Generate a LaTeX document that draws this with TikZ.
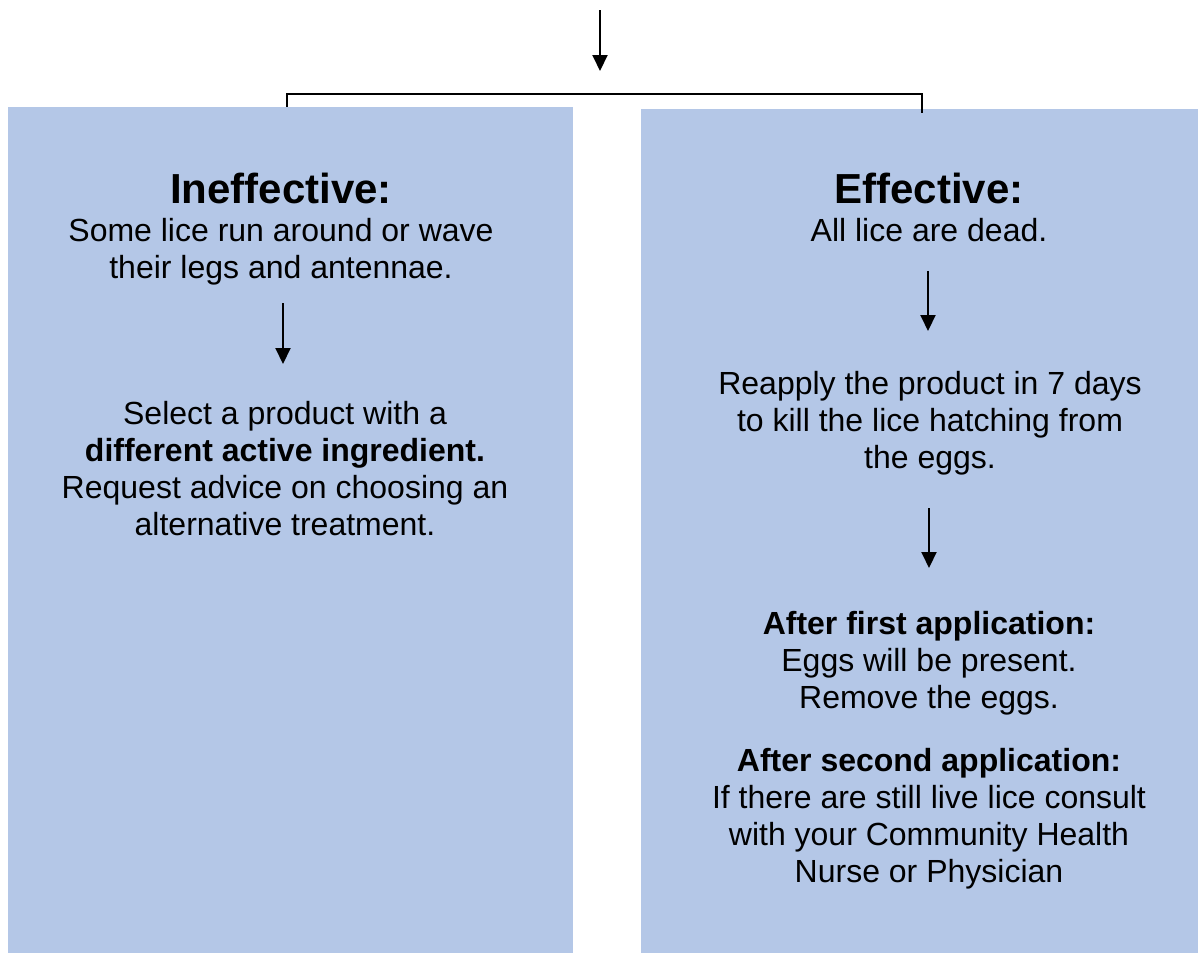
\documentclass[tikz,border=0pt]{standalone}
\usepackage{fontspec}
\setmainfont{Liberation Sans}
\usetikzlibrary{arrows.meta}
\tikzset{>={Triangle[length=16pt,width=15pt]}}
\definecolor{panelblue}{RGB}{180,199,231}
\newcommand{\txtfont}{\fontsize{32}{37}\selectfont}
\newcommand{\hdfont}{\fontsize{42}{48}\selectfont\bfseries}

\begin{document}
\begin{tikzpicture}[x=1pt,y=-1pt,
    panel/.style={fill=panelblue,inner sep=0pt},
    txt/.style={anchor=north,align=center,inner sep=0pt,font=\txtfont},
    flow/.style={->,line width=2pt}]
    \useasboundingbox(0,0)rectangle(1198,953);
    \node[panel,minimum width=565pt,minimum height=846pt](ineffBox)at(290.5,530){};
    \node[panel,minimum width=557pt,minimum height=844pt](effBox)at(919.5,531){};
    \node[txt,font=\hdfont](ineffHd)at(281,173){Ineffective:};
    \node[txt](ineffTxt)at(281,218){Some lice run around or wave\\their legs and antennae.};
    \node[txt](selTxt)at(285,401){Select a product with a\\\textbf{different active ingredient.}\\Request advice on choosing an\\alternative treatment.};
    \node[txt,font=\hdfont](effHd)at(929,173){Effective:};
    \node[txt](effTxt)at(929,218){All lice are dead.};
    \node[txt](reTxt)at(930,371){Reapply the product in 7 days\\to kill the lice hatching from\\the eggs.};
    \node[txt](firstTxt)at(929,611){\textbf{After first application:}\\Eggs will be present.\\Remove the eggs.};
    \node[txt](secondTxt)at(929,748){\textbf{After second application:}\\If there are still live lice consult\\with your Community Health\\Nurse or Physician};
    \coordinate(src)at(600,10);
    \coordinate(split)at(600,71);
    \coordinate(bar)at(600,94);
    \draw[flow](src)--(split);
    \draw[line width=1.5pt]([xshift=-3.5pt]ineffBox.north)|-(bar)-|([xshift=2.5pt,yshift=-4pt]effBox.north);
    \draw[flow,shorten <=18pt,shorten >=37pt]([xshift=2pt]ineffTxt.south)--([xshift=-2pt]selTxt.north);
    \draw[flow,shorten <=29pt,shorten >=40pt]([xshift=-1pt]effTxt.south)--([xshift=-2pt]reTxt.north);
    \draw[flow,shorten <=33pt,shorten >=43pt]([xshift=-1pt]reTxt.south)--(firstTxt.north);
\end{tikzpicture}
\end{document}
